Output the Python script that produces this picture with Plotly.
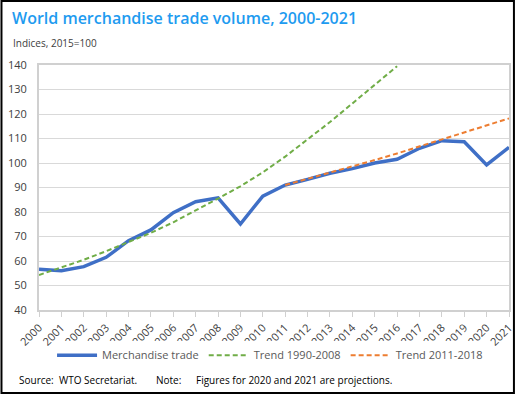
import plotly.graph_objects as go

years = list(range(2000, 2022))
merch = [56.6, 56.0, 57.7, 61.5, 68.3, 72.7, 79.7, 84.2, 85.8, 75.1, 86.5,
         91.0, 93.3, 95.8, 97.7, 100.0, 101.5, 106.0, 109.1, 108.7, 99.2, 106.4]
trend_years_a = list(range(2000, 2017))
trend_a = [54.3, 57.3, 60.5, 64.0, 67.7, 71.5, 75.8, 80.5, 85.5, 90.5, 96.2,
           102.6, 109.5, 116.7, 124.3, 131.8, 139.5]
trend_years_b = list(range(2011, 2022))
trend_b = [91.0, 93.5, 96.0, 98.6, 101.2, 103.9, 106.7, 109.5, 112.3, 115.2, 118.2]
year_labels = [str(y) for y in years]

fig = go.Figure()
fig.add_trace(go.Scatter(x=years, y=merch, mode="lines", name="Merchandise trade",
                         line=dict(color="#3F6FC6", width=3.5)))
fig.add_trace(go.Scatter(x=trend_years_a, y=trend_a, mode="lines", name="Trend 1990-2008",
                         line=dict(color="#70AD47", width=2, dash="5px,3px")))
fig.add_trace(go.Scatter(x=trend_years_b, y=trend_b, mode="lines", name="Trend 2011-2018",
                         line=dict(color="#ED7D31", width=2, dash="5px,3px")))

L, R, T, B = 39, 6, 65, 84
W, H = 521, 394
pw, ph = W - L - R, H - T - B


def px_x(p):
    return (p - L) / pw


def px_y(p):
    return (H - B - p) / ph


fig.update_layout(
    width=W, height=H,
    margin=dict(l=L, r=R, t=T, b=B),
    paper_bgcolor="white", plot_bgcolor="white",
    font=dict(family="Open Sans, sans-serif", color="#404040", size=11),
    showlegend=True,
    legend=dict(orientation="h", x=0.5 - 4 / pw, xanchor="center", y=-0.125, yanchor="top",
                font=dict(size=11, color="#595959"), itemwidth=40,
                traceorder="normal"),
    xaxis=dict(range=[2000, 2021], tickmode="array", tickvals=years, ticktext=year_labels,
               tickangle=-45, showgrid=False, showline=True, linecolor="#D0D0D0", linewidth=2,
               mirror=True, ticks="outside", ticklen=5, tickcolor="#D0D0D0",
               tickfont=dict(size=11, color="#404040", family="Open Sans, sans-serif"),
               zeroline=False),
    yaxis=dict(range=[40, 140], dtick=10, showgrid=True, gridcolor="#D9D9D9", gridwidth=1,
               showline=True, linecolor="#D0D0D0", linewidth=2, mirror=True,
               ticks="", ticklabelstandoff=8,
               tickfont=dict(size=11, color="#404040", family="Open Sans, sans-serif"),
               zeroline=False),
)

fig.add_annotation(text="World merchandise trade volume, 2000-2021", xref="paper", yref="paper",
                   x=px_x(10), y=px_y(18), xanchor="left", yanchor="middle", showarrow=False,
                   font=dict(size=16, color="#1E9BF0", family="Open Sans, sans-serif", weight=600))
fig.add_annotation(text="Indices, 2015=100", xref="paper", yref="paper",
                   x=px_x(11), y=px_y(43), xanchor="left", yanchor="middle", showarrow=False,
                   font=dict(size=10, color="#404040", family="Open Sans, sans-serif"))
for txt, xp in [("Source:", 17), ("WTO Secretariat.", 57), ("Note:", 155),
                ("Figures for 2020 and 2021 are projections.", 196)]:
    fig.add_annotation(text=txt, xref="paper", yref="paper", x=px_x(xp), y=px_y(380),
                       xanchor="left", yanchor="middle", showarrow=False,
                       font=dict(size=10, color="#000000", family="Open Sans, sans-serif"))

fig.add_shape(type="rect", xref="paper", yref="paper",
              x0=px_x(1), x1=px_x(W - 1), y0=px_y(H - 1), y1=px_y(1),
              line=dict(color="#000000", width=2), layer="above")

fig.write_html("out.html", config={"displayModeBar": False},
               post_script="document.body.style.margin='0';document.body.style.overflow='hidden';")
